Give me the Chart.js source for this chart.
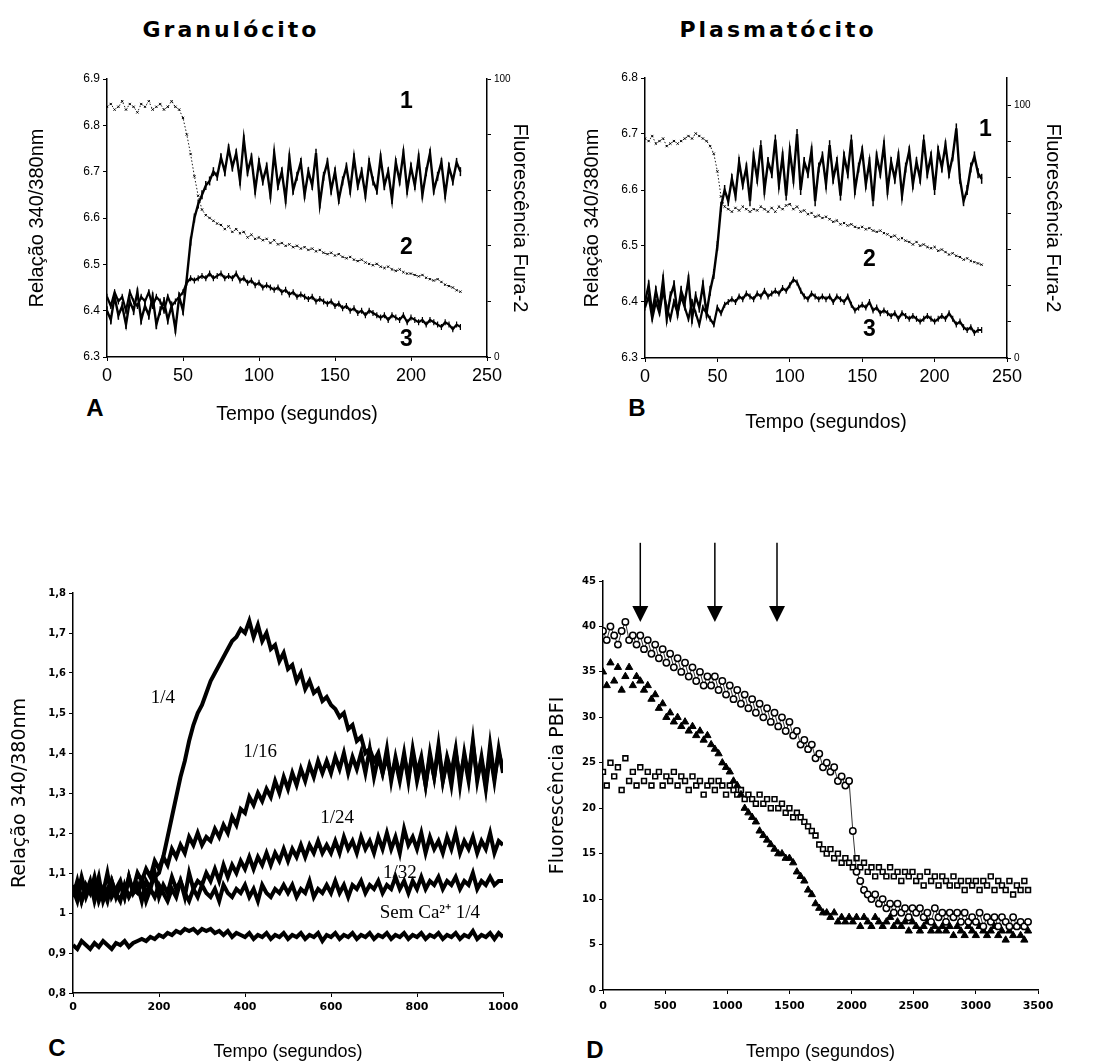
<!DOCTYPE html>
<html><head><meta charset="utf-8">
<script src="https://cdn.jsdelivr.net/npm/chart.js@4.4.1/dist/chart.umd.min.js"></script>
<style>
body{margin:0;background:#fff;width:1094px;height:1063px;position:relative;overflow:hidden;font-family:'Liberation Sans',Arial,sans-serif;}
canvas{position:absolute;}
.t{position:absolute;color:#000;white-space:nowrap;transform:translate(-50%,-50%);line-height:1;}
.ttl{font-family:'DejaVu Sans',sans-serif;font-weight:bold;font-size:22px;letter-spacing:3px;}
.pl{font-family:'Liberation Sans',Arial,sans-serif;font-weight:bold;font-size:24px;}
</style></head><body>
<div class="t ttl" style="left:231px;top:30px">Granulócito</div>
<div class="t ttl" style="left:778px;top:30px">Plasmatócito</div>
<div class="t pl" style="left:95px;top:408px">A</div>
<div class="t pl" style="left:637px;top:408px">B</div>
<div class="t pl" style="left:57px;top:1048px">C</div>
<div class="t pl" style="left:595px;top:1050px">D</div>
<canvas id="cA" width="560" height="366" style="left:0;top:60px"></canvas>
<canvas id="cB" width="534" height="374" style="left:560px;top:60px"></canvas>
<canvas id="cC" width="540" height="503" style="left:0;top:560px"></canvas>
<canvas id="cD" width="554" height="533" style="left:540px;top:530px"></canvas>
<script>
// ---------- Panel A (Granulócito), sampled every 2.5 s ----------
const A_STEP = 2.5;
const A_RATIO_1 = [
6.40,6.38,6.43,6.39,6.41,6.37,6.42,6.40,6.44,6.38,
6.41,6.39,6.43,6.37,6.40,6.42,6.38,6.41,6.36,6.43,
6.40,6.47,6.55,6.60,6.63,6.65,6.67,6.68,6.70,6.69,
6.73,6.70,6.75,6.71,6.74,6.68,6.77,6.70,6.73,6.66,
6.72,6.68,6.71,6.65,6.74,6.67,6.70,6.64,6.73,6.66,
6.69,6.72,6.65,6.70,6.67,6.74,6.63,6.69,6.72,6.66,
6.70,6.64,6.68,6.71,6.66,6.73,6.67,6.70,6.65,6.72,
6.68,6.66,6.73,6.67,6.70,6.64,6.72,6.68,6.74,6.66,
6.71,6.67,6.73,6.65,6.70,6.74,6.66,6.69,6.72,6.65,
6.71,6.68,6.72,6.70];
const A_FURA_2 = [
90,91,89,90,92,89,91,90,88,91,
90,92,89,90,91,89,90,92,90,89,
86,80,73,65,58,53,51,50,49,48,
47.5,46,47,45,46,44.5,45,43,44,42.5,
43,42,42.5,41,42,40.5,41,40,40.5,39.5,
40,39,39.5,38.5,39,38,38.5,37.5,37,37.5,
36.5,37,36,35.5,36,35,34.5,35,34,33.5,
33,33.5,32.5,32,32.5,31.5,31,31.5,30.5,30,
30,29.5,29,29.5,28.5,28,27.5,28,27,26,
25.5,25,24,23.5];
const A_RATIO_3 = [
6.43,6.41,6.44,6.42,6.43,6.40,6.44,6.42,6.41,6.43,
6.42,6.44,6.41,6.43,6.42,6.40,6.43,6.41,6.42,6.43,
6.44,6.46,6.47,6.465,6.47,6.475,6.47,6.48,6.47,6.475,
6.48,6.47,6.475,6.47,6.48,6.465,6.47,6.46,6.465,6.455,
6.46,6.45,6.455,6.45,6.445,6.45,6.44,6.445,6.435,6.44,
6.43,6.435,6.43,6.425,6.43,6.42,6.425,6.42,6.415,6.42,
6.41,6.415,6.405,6.41,6.40,6.405,6.395,6.40,6.39,6.40,
6.395,6.39,6.385,6.39,6.38,6.39,6.385,6.38,6.39,6.375,
6.385,6.38,6.375,6.38,6.37,6.38,6.375,6.37,6.365,6.375,
6.37,6.36,6.37,6.365];
const A_LABEL_TEXT = ['1','2','3'];
const A_LABEL_X = [197,197,197];
const A_LABEL_Y = [6.852,6.535,6.337];

// ---------- Panel B (Plasmatócito), sampled every 2.5 s ----------
const B_STEP = 2.5;
const B_RATIO_1 = [
6.40,6.43,6.38,6.42,6.39,6.44,6.37,6.41,6.43,6.38,
6.42,6.40,6.44,6.37,6.41,6.39,6.43,6.38,6.42,6.45,
6.50,6.57,6.60,6.58,6.62,6.59,6.65,6.61,6.64,6.58,
6.66,6.62,6.68,6.60,6.65,6.63,6.69,6.61,6.66,6.59,
6.67,6.62,6.70,6.60,6.65,6.63,6.67,6.58,6.64,6.66,
6.61,6.68,6.62,6.65,6.59,6.66,6.63,6.69,6.60,6.64,
6.67,6.61,6.65,6.58,6.66,6.63,6.68,6.60,6.65,6.62,
6.66,6.59,6.64,6.67,6.61,6.65,6.62,6.69,6.63,6.66,
6.60,6.67,6.64,6.68,6.63,6.66,6.71,6.62,6.58,6.60,
6.64,6.66,6.63,6.62];
const B_FURA_2 = [
87,86,88,85,86,87,84,85,86,85,
86,87,88,87,89,88,87,86,84,81,
74,64,60,59,58,59.5,58.5,60,59,58,
59,58.5,60,59,58,59.5,58,60,59,60.5,
61,59,60,58,58.5,57,57.5,56,56.5,55.5,
56,55,54,54.5,53,53.5,52.5,53,52,51.5,
52,51,51.5,50.5,50,50.5,49.5,49,48,48.5,
47,47.5,46.5,46,45,46,44.5,45,44,43.5,
44,42.5,43,42,41,41.5,40.5,40,39,39.5,
38.5,38,37.5,37];
const B_RATIO_3 = [
6.39,6.41,6.37,6.40,6.38,6.42,6.39,6.37,6.40,6.38,
6.41,6.39,6.37,6.40,6.38,6.36,6.39,6.38,6.37,6.36,
6.39,6.38,6.395,6.40,6.405,6.40,6.41,6.405,6.415,6.41,
6.405,6.415,6.41,6.42,6.41,6.415,6.42,6.415,6.425,6.42,
6.43,6.44,6.435,6.42,6.41,6.405,6.415,6.41,6.405,6.41,
6.405,6.41,6.40,6.41,6.405,6.40,6.41,6.395,6.385,6.39,
6.395,6.39,6.40,6.385,6.39,6.38,6.385,6.38,6.375,6.38,
6.37,6.38,6.375,6.37,6.375,6.37,6.365,6.37,6.375,6.37,
6.365,6.37,6.375,6.37,6.38,6.37,6.36,6.365,6.355,6.35,
6.355,6.345,6.35,6.35];
const B_LABEL_TEXT = ['1','2','3'];
const B_LABEL_X = [235,155,155];
const B_LABEL_Y = [6.707,6.475,6.35];

// ---------- Panel C, sampled every 10 s ----------
const C_STEP = 10;
const C_DIL_4 = [
1.04,1.08,1.03,1.07,1.05,1.09,1.04,1.06,1.03,1.08,
1.05,1.07,1.04,1.09,1.05,1.06,1.08,1.05,1.07,1.09,
1.10,1.14,1.19,1.24,1.29,1.34,1.38,1.43,1.47,1.50,
1.52,1.55,1.58,1.60,1.62,1.64,1.66,1.68,1.69,1.71,
1.70,1.73,1.69,1.72,1.68,1.70,1.66,1.67,1.63,1.65,
1.61,1.62,1.58,1.60,1.56,1.58,1.55,1.56,1.53,1.54,
1.52,1.51,1.49,1.50,1.46,1.47,1.43,1.44,1.40,1.41,
1.38,1.40,1.35,1.39,1.34,1.38,1.33,1.39,1.34,1.40,
1.33,1.38,1.32,1.39,1.34,1.41,1.33,1.38,1.32,1.40,
1.34,1.39,1.33,1.42,1.34,1.38,1.31,1.40,1.33,1.41,
1.35];
const C_DIL_16 = [
1.06,1.03,1.08,1.04,1.07,1.05,1.09,1.03,1.06,1.08,
1.04,1.07,1.05,1.08,1.06,1.10,1.08,1.11,1.09,1.13,
1.11,1.14,1.12,1.16,1.14,1.17,1.15,1.19,1.17,1.20,
1.17,1.19,1.18,1.21,1.19,1.22,1.20,1.24,1.22,1.26,
1.25,1.29,1.27,1.30,1.28,1.31,1.29,1.33,1.30,1.34,
1.31,1.35,1.32,1.36,1.33,1.37,1.34,1.38,1.35,1.38,
1.35,1.39,1.36,1.40,1.35,1.39,1.36,1.40,1.35,1.41,
1.34,1.39,1.35,1.41,1.33,1.39,1.34,1.40,1.33,1.41,
1.35,1.39,1.32,1.40,1.34,1.42,1.33,1.39,1.35,1.41,
1.32,1.40,1.34,1.43,1.33,1.39,1.32,1.42,1.34,1.40,
1.36];
const C_DIL_24 = [
1.07,1.04,1.09,1.05,1.08,1.03,1.07,1.05,1.10,1.04,
1.06,1.08,1.04,1.09,1.05,1.07,1.03,1.08,1.06,1.10,
1.04,1.07,1.05,1.09,1.06,1.08,1.04,1.10,1.06,1.08,
1.07,1.10,1.08,1.11,1.08,1.12,1.09,1.12,1.10,1.13,
1.11,1.14,1.11,1.14,1.12,1.15,1.12,1.15,1.13,1.16,
1.13,1.16,1.14,1.17,1.14,1.17,1.15,1.18,1.15,1.17,
1.15,1.18,1.15,1.19,1.16,1.18,1.15,1.19,1.16,1.18,
1.15,1.19,1.16,1.20,1.16,1.19,1.15,1.21,1.17,1.19,
1.16,1.20,1.15,1.19,1.16,1.18,1.15,1.19,1.16,1.20,
1.15,1.18,1.16,1.19,1.15,1.18,1.16,1.20,1.15,1.18,
1.17];
const C_DIL_32 = [
1.04,1.07,1.03,1.06,1.05,1.08,1.03,1.06,1.04,1.07,
1.05,1.03,1.07,1.04,1.06,1.05,1.08,1.03,1.06,1.04,
1.07,1.05,1.03,1.06,1.04,1.08,1.05,1.03,1.06,1.04,
1.07,1.05,1.04,1.06,1.03,1.07,1.05,1.04,1.06,1.05,
1.07,1.04,1.06,1.03,1.07,1.05,1.04,1.06,1.05,1.07,
1.05,1.07,1.04,1.06,1.05,1.08,1.04,1.06,1.05,1.07,
1.05,1.08,1.05,1.07,1.04,1.07,1.06,1.08,1.05,1.07,
1.06,1.08,1.05,1.07,1.06,1.09,1.06,1.08,1.05,1.08,
1.06,1.09,1.06,1.08,1.07,1.09,1.06,1.08,1.07,1.09,
1.06,1.08,1.07,1.10,1.06,1.08,1.07,1.09,1.07,1.08,
1.08];
const C_SEM_CA = [
0.92,0.91,0.93,0.92,0.91,0.925,0.915,0.93,0.92,0.91,
0.925,0.92,0.93,0.915,0.925,0.93,0.935,0.93,0.94,0.935,
0.945,0.94,0.95,0.945,0.955,0.95,0.96,0.955,0.96,0.95,
0.96,0.955,0.96,0.95,0.955,0.945,0.955,0.94,0.95,0.945,
0.94,0.95,0.935,0.945,0.94,0.95,0.935,0.945,0.94,0.95,
0.935,0.945,0.94,0.95,0.935,0.945,0.94,0.95,0.93,0.945,
0.94,0.95,0.935,0.945,0.94,0.95,0.935,0.945,0.94,0.95,
0.935,0.945,0.94,0.95,0.935,0.945,0.94,0.95,0.935,0.945,
0.94,0.95,0.935,0.945,0.94,0.95,0.935,0.945,0.94,0.95,
0.935,0.945,0.94,0.955,0.935,0.945,0.94,0.95,0.935,0.95,
0.94];
const C_LABEL_TEXT = ['1/4','1/16','1/24','1/32','Sem Ca\u00B2\u207A 1/4'];
const C_LABEL_X = [209,435,614,760,830];
const C_LABEL_Y = [1.5375,1.4025,1.2375,1.10,1.0];

// ---------- Panel D, sampled every 30 s ----------
const D_STEP = 30;
const D_CIRCLES = [
39.5,38.5,40,39,38,39.5,40.5,38.5,39,38,
39,37.5,38.5,37,38,36.5,37.5,36,37,35.5,
36.5,35,36,34.5,35.5,34,35,33.5,34.5,33.5,
34.5,33,34,32.5,33.5,32,33,31.5,32.5,31,
32,30.5,31.5,30,31,29.5,30.5,29,30,28.5,
29.5,28,28.5,27,27.5,26.5,27,25.5,26,24.5,
25,24,24.5,23,23.5,22.5,23,17.5,13,12,
11,10.5,10,10.5,9.5,10,9,9.5,8.5,9.5,
8.5,9,8,9,8.5,9,8,8.5,7.5,9,
8,8.5,7.5,8.5,8,8.5,7.5,8.5,7.5,8,
7.5,8.5,7,8,7.5,8,7,8,7.5,7,
8,7,7.5,7,7.5];
const D_TRIANGLES = [
35,33.5,36,34,35.5,33,34.5,35.5,33.5,34.5,
34,33,33.5,32,32.5,31,31.5,30,30.5,29.5,
30,29,29.5,28.5,29,28,28.5,27.5,28,27,
26.5,26,25,24.5,24,23,22.5,21.5,20,19.5,
19,18.5,17.5,17,16.5,16,15.5,15,15,14.5,
14.5,14,13,12.5,12,11,10.5,9.5,9,8.5,
8.5,8,8.5,7.5,8,7.5,8,7.5,8,7,
8,7.5,7,8,7.5,7,7.5,8,7,7.5,
7,7.5,6.5,7.5,7,6.5,7,7.5,6.5,7,
6.5,7,6.5,7,6,7,6.5,6,7,6.5,
6,7,6.5,6,6.5,7,6,6.5,5.5,6.5,
6,7,6,5.5,6.5];
const D_SQUARES = [
24,22.5,25,23.5,24.5,22,25.5,23,24,22.5,
24.5,23,24,22.5,23.5,24,22.5,23.5,23,24,
22.5,23.5,23,22,23.5,22.5,23,21.5,22.5,23,
22,23,22.5,21.5,22.5,22,21.5,22,21,21.5,
21,20.5,21.5,20.5,21,20,21,20,20.5,19.5,
20,19,19.5,19,18.5,18,17.5,17,16,15.5,
15,15.5,14.5,15,14,14.5,14,13.5,14.5,13.5,
14,13,13.5,12.5,13.5,13,12.5,13.5,12.5,13,
12,13,12.5,13,12,12.5,11.5,13,12,12.5,
11.5,12.5,12,11.5,12.5,11.5,12,11,12,11.5,
12,11,12,11.5,12.5,11,12,11.5,11,12,
10.5,11.5,11,12,11];
const D_ARROW_T = [300, 900, 1400];
const D_ARROW_FROM = 49.2, D_ARROW_TO = 40.5;

// ---------- helpers ----------
Chart.defaults.font.family = "'Liberation Sans', Arial, sans-serif";
Chart.defaults.color = '#000';

function series(values, step){ return values.map((v,i)=>({x:i*step, y:v})); }
function labelsFrom(texts, xs, ys, font, axis){
  return texts.map((t,i)=>({text:t, x:xs[i], y:ys[i], font:font, axis:axis||'y'}));
}
const notesPlugin = {
  id:'notes',
  afterDatasetsDraw(chart, args, opts){
    const ctx = chart.ctx; const xs = chart.scales.x;
    ctx.save();
    (opts.arrows||[]).forEach(a=>{
      const ys = chart.scales.y;
      const px = xs.getPixelForValue(a.x), p0 = ys.getPixelForValue(a.from), p1 = ys.getPixelForValue(a.to);
      ctx.strokeStyle='#000'; ctx.lineWidth=1.5;
      ctx.beginPath(); ctx.moveTo(px,p0); ctx.lineTo(px,p1-12); ctx.stroke();
      ctx.fillStyle='#000'; ctx.beginPath();
      ctx.moveTo(px-8,p1-16); ctx.lineTo(px+8,p1-16); ctx.lineTo(px,p1); ctx.closePath(); ctx.fill();
    });
    (opts.labels||[]).forEach(l=>{
      const px = xs.getPixelForValue(l.x), py = chart.scales[l.axis].getPixelForValue(l.y);
      ctx.font = l.font; ctx.fillStyle='#000'; ctx.textAlign='center'; ctx.textBaseline='middle';
      ctx.fillText(l.text, px, py);
    });
    ctx.restore();
  }
};
function border(){ return {display:true, color:'#000', width:1.5}; }
function grid(){ return {drawOnChartArea:false, drawTicks:true, tickLength:4, color:'#000', lineWidth:1}; }
const plain = v => String(v);
const baseOpts = {responsive:false, animation:false, devicePixelRatio:1, events:[],
  plugins:{legend:{display:false}, tooltip:{enabled:false}}};

// ---------- Panel A ----------
new Chart(document.getElementById('cA'), {
  type:'line',
  data:{datasets:[
    {data:series(A_RATIO_1,A_STEP), yAxisID:'y', borderColor:'#000', borderWidth:2.4,
     pointStyle:'line', pointRotation:90, pointRadius:4.5, pointBorderColor:'#000', pointBorderWidth:1.5},
    {data:series(A_FURA_2,A_STEP), yAxisID:'y1', borderColor:'#000', borderWidth:0.9, borderDash:[1.5,2],
     pointStyle:'crossRot', pointRadius:1.6, pointBorderColor:'#000', pointBorderWidth:1},
    {data:series(A_RATIO_3,A_STEP), yAxisID:'y', borderColor:'#000', borderWidth:2.2,
     pointStyle:'line', pointRotation:90, pointRadius:3, pointBorderColor:'#000', pointBorderWidth:1.2}
  ]},
  options:Object.assign({}, baseOpts, {
    layout:{padding:{top:19,left:0,right:0,bottom:0}},
    plugins:Object.assign({}, baseOpts.plugins, {notes:{labels:labelsFrom(A_LABEL_TEXT,A_LABEL_X,A_LABEL_Y,"bold 23px 'Liberation Sans', Arial")}}),
    scales:{
      x:{type:'linear', min:0, max:250, border:border(), grid:grid(),
         ticks:{stepSize:50, font:{size:18}, padding:4, maxRotation:0, callback:plain},
         title:{display:true, text:'Tempo (segundos)', font:{size:19.5}, padding:{top:0,bottom:0}},
         afterFit(s){ s.height = 69; }},
      y:{position:'left', min:6.3, max:6.9, border:border(), grid:grid(),
         ticks:{stepSize:0.1, font:{size:12}, padding:3, callback:v=>v.toFixed(1)},
         title:{display:true, text:'Relação 340/380nm', font:{size:20}, padding:{top:25,bottom:0}},
         afterFit(s){ s.width = 107; }},
      y1:{position:'right', min:0, max:100, border:border(), grid:grid(),
         ticks:{stepSize:20, font:{size:10}, padding:3, callback:v=>(v===0||v===100)?String(v):''},
         title:{display:true, text:'Fluorescência Fura-2', font:{size:20}, padding:{top:28,bottom:0}},
         afterFit(s){ s.width = 73; }}
    }
  }),
  plugins:[notesPlugin]
});

// ---------- Panel B ----------
new Chart(document.getElementById('cB'), {
  type:'line',
  data:{datasets:[
    {data:series(B_RATIO_1,B_STEP), yAxisID:'y', borderColor:'#000', borderWidth:2.4,
     pointStyle:'line', pointRotation:90, pointRadius:5, pointBorderColor:'#000', pointBorderWidth:1.5},
    {data:series(B_FURA_2,B_STEP), yAxisID:'y1', borderColor:'#000', borderWidth:0.9, borderDash:[1.5,2],
     pointStyle:'crossRot', pointRadius:1.6, pointBorderColor:'#000', pointBorderWidth:1},
    {data:series(B_RATIO_3,B_STEP), yAxisID:'y', borderColor:'#000', borderWidth:2.2,
     pointStyle:'line', pointRotation:90, pointRadius:3, pointBorderColor:'#000', pointBorderWidth:1.2}
  ]},
  options:Object.assign({}, baseOpts, {
    layout:{padding:{top:18,left:0,right:0,bottom:0}},
    plugins:Object.assign({}, baseOpts.plugins, {notes:{labels:labelsFrom(B_LABEL_TEXT,B_LABEL_X,B_LABEL_Y,"bold 23px 'Liberation Sans', Arial")}}),
    scales:{
      x:{type:'linear', min:0, max:250, border:border(), grid:grid(),
         ticks:{stepSize:50, font:{size:18}, padding:4, maxRotation:0, callback:plain},
         title:{display:true, text:'Tempo (segundos)', font:{size:19.5}, padding:{top:0,bottom:0}},
         afterFit(s){ s.height = 76; }},
      y:{position:'left', min:6.3, max:6.8, border:border(), grid:grid(),
         ticks:{stepSize:0.1, font:{size:12}, padding:3, callback:v=>v.toFixed(1)},
         title:{display:true, text:'Relação 340/380nm', font:{size:20}, padding:{top:20,bottom:0}},
         afterFit(s){ s.width = 85; }},
      y1:{position:'right', min:0, max:111, border:border(), grid:grid(),
         ticks:{stepSize:100/7, includeBounds:false, font:{size:10}, padding:3,
                callback:v=>(Math.abs(v)<0.01)?'0':(Math.abs(v-100)<0.01?'100':'')},
         title:{display:true, text:'Fluorescência Fura-2', font:{size:20}, padding:{top:29,bottom:0}},
         afterFit(s){ s.width = 87; }}
    }
  }),
  plugins:[notesPlugin]
});

// ---------- Panel C ----------
function cLine(vals){ return {data:series(vals,C_STEP), borderColor:'#000', borderWidth:4, pointRadius:0, borderJoinStyle:'miter'}; }
new Chart(document.getElementById('cC'), {
  type:'line',
  data:{datasets:[cLine(C_DIL_4), cLine(C_DIL_16), cLine(C_DIL_24), cLine(C_DIL_32), cLine(C_SEM_CA)]},
  options:Object.assign({}, baseOpts, {
    layout:{padding:{top:33,left:0,right:37,bottom:0}},
    plugins:Object.assign({}, baseOpts.plugins, {notes:{labels:labelsFrom(C_LABEL_TEXT,C_LABEL_X,C_LABEL_Y,"19px 'Liberation Serif', 'Times New Roman', serif")}}),
    scales:{
      x:{type:'linear', min:0, max:1000, border:border(), grid:grid(),
         ticks:{stepSize:200, font:{family:"'DejaVu Sans'", size:11, weight:'bold'}, padding:4, maxRotation:0, callback:plain},
         title:{display:true, text:'Tempo (segundos)', font:{size:18}, padding:{top:0,bottom:0}},
         afterFit(s){ s.height = 70; }},
      y:{position:'left', min:0.8, max:1.8, border:border(), grid:grid(),
         ticks:{stepSize:0.1, font:{family:"'DejaVu Sans'", size:10, weight:'bold'}, padding:3,
                callback:v=>Math.abs(v-1)<1e-6?'1':v.toFixed(1).replace('.',',')},
         title:{display:true, text:'Relação 340/380nm', font:{family:"'DejaVu Sans'", size:19}, padding:{top:8.6,bottom:0}},
         afterFit(s){ s.width = 73; }}
    }
  }),
  plugins:[notesPlugin]
});

// ---------- Panel D ----------
new Chart(document.getElementById('cD'), {
  type:'line',
  data:{datasets:[
    {data:series(D_CIRCLES,D_STEP), showLine:true, borderColor:'#000', borderWidth:0.8,
     pointStyle:'circle', pointRadius:3.2, pointBackgroundColor:'#fff', pointBorderColor:'#000', pointBorderWidth:1.5},
    {data:series(D_TRIANGLES,D_STEP), showLine:false, borderColor:'#000',
     pointStyle:'triangle', pointRadius:4.2, pointBackgroundColor:'#000', pointBorderColor:'#000', pointBorderWidth:1},
    {data:series(D_SQUARES,D_STEP), showLine:false, borderColor:'#000',
     pointStyle:'rect', pointRadius:3.4, pointBackgroundColor:'#fff', pointBorderColor:'#000', pointBorderWidth:1.6}
  ]},
  options:Object.assign({}, baseOpts, {
    layout:{padding:{top:51,left:0,right:56,bottom:0}},
    plugins:Object.assign({}, baseOpts.plugins, {notes:{arrows:D_ARROW_T.map(t=>({x:t, from:D_ARROW_FROM, to:D_ARROW_TO}))}}),
    scales:{
      x:{type:'linear', min:0, max:3500, border:border(), grid:grid(),
         ticks:{stepSize:500, font:{family:"'DejaVu Sans'", size:11, weight:'bold'}, padding:6, maxRotation:0, callback:plain},
         title:{display:true, text:'Tempo (segundos)', font:{size:18}, padding:{top:0,bottom:0}},
         afterFit(s){ s.height = 73; }},
      y:{position:'left', min:0, max:45, border:border(), grid:grid(),
         ticks:{stepSize:5, font:{family:"'DejaVu Sans'", size:10, weight:'bold'}, padding:3, callback:plain},
         title:{display:true, text:'Fluorescência PBFI', font:{family:"'DejaVu Sans'", size:19}, padding:{top:6.6,bottom:0}},
         afterFit(s){ s.width = 63; }}
    }
  }),
  plugins:[notesPlugin]
});
</script>
</body></html>
